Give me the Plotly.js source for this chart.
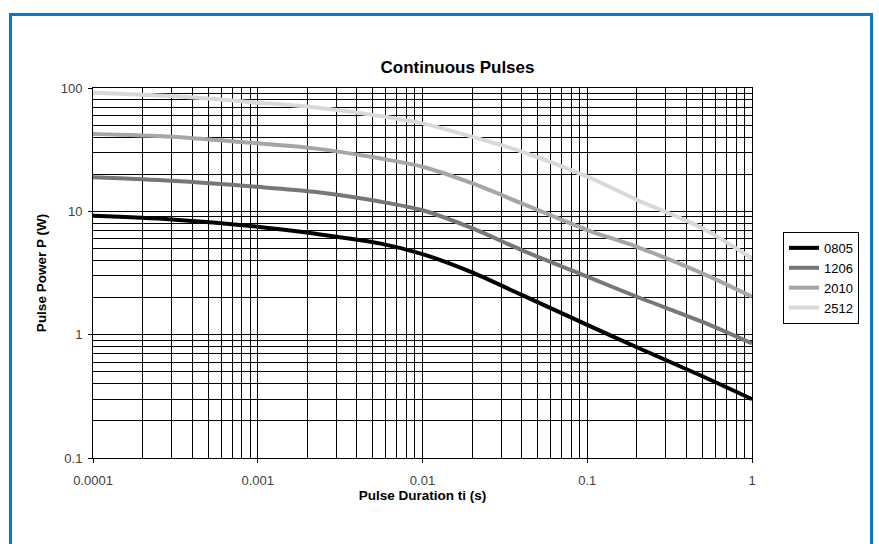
<!DOCTYPE html>
<html>
<head>
<meta charset="utf-8">
<script src="https://cdn.plot.ly/plotly-3.0.1.min.js"></script>
<style>
  html, body { margin: 0; padding: 0; background: #fff; }
  #frame { position: absolute; left: 9px; top: 13px; width: 864px; height: 560px; border: 3px solid #0a78c8; border-bottom: none; box-sizing: border-box; pointer-events: none; z-index: 5; }
  #chart { width: 879px; height: 544px; }
</style>
</head>
<body>
<div id="frame"></div>
<div id="chart"></div>
<script>
// Pulse duration (s)
const duration = [1e-4, 3e-4, 1e-3, 2.2e-3, 5.5e-3, 0.01, 0.02, 0.04, 0.1, 0.2, 0.5, 1];
// Pulse power (W) per size
const p0805 = [9.2, 8.6, 7.5, 6.6, 5.5, 4.5, 3.2, 2.1, 1.2, 0.79, 0.46, 0.30];
const p1206 = [18.9, 17.7, 15.8, 14.4, 12.0, 10.2, 7.3, 4.85, 2.95, 2.03, 1.27, 0.85];
const p2010 = [42.4, 40.3, 35.6, 32.4, 26.9, 23.0, 16.9, 11.6, 7.05, 5.16, 3.14, 2.03];
const p2512 = [91.6, 86.0, 76.0, 69.7, 59.3, 51.7, 40.3, 30.5, 19.1, 12.4, 7.3, 4.16];

const seriesNames = ['0805', '1206', '2010', '2512'];
const seriesValues = [p0805, p1206, p2010, p2512];
const seriesColors = ['#000000', '#777777', '#a6a6a6', '#d9d9d9'];

const xTickVals = [1e-4, 1e-3, 1e-2, 1e-1, 1];
const xTickText = ['0.0001', '0.001', '0.01', '0.1', '1'];
const yTickVals = [0.1, 1, 10, 100];
const yTickText = ['0.1', '1', '10', '100'];

const traces = seriesNames.map((n, i) => ({
  x: duration,
  y: seriesValues[i],
  name: n,
  type: 'scatter',
  mode: 'lines',
  line: { color: seriesColors[i], width: 4, shape: 'spline', smoothing: 0.8 }
}));

const tickFont = { family: 'Liberation Sans, Arial, sans-serif', size: 13, color: '#404040' };
const titleFont = { family: 'Liberation Sans, Arial, sans-serif', size: 13.5, color: '#000' };

const layout = {
  width: 879, height: 544,
  margin: { l: 93, r: 127, t: 88, b: 86 },
  paper_bgcolor: '#fff', plot_bgcolor: '#fff',
  title: { text: '<b>Continuous Pulses</b>', x: 0.5205, xanchor: 'center', y: 0.877, yanchor: 'middle',
           font: { family: 'Liberation Sans, Arial, sans-serif', size: 17, color: '#000' } },
  xaxis: {
    type: 'log', range: [-4, 0],
    tickvals: xTickVals, ticktext: xTickText,
    ticks: 'outside', ticklen: 4, tickcolor: '#000', ticklabelstandoff: 6,
    showline: true, linecolor: '#000', linewidth: 1, mirror: true,
    showgrid: true, gridcolor: '#000', gridwidth: 1,
    minor: { showgrid: true, gridcolor: '#000', gridwidth: 1, dtick: 'D1', ticks: '' },
    zeroline: false, tickfont: tickFont,
    title: { text: '<b>Pulse Duration ti (s)</b>', font: titleFont, standoff: 3 }
  },
  yaxis: {
    type: 'log', range: [-1, 2],
    tickvals: yTickVals, ticktext: yTickText,
    ticks: 'outside', ticklen: 4, tickcolor: '#000', ticklabelstandoff: 3,
    showline: true, linecolor: '#000', linewidth: 1, mirror: true,
    showgrid: true, gridcolor: '#000', gridwidth: 1,
    minor: { showgrid: true, gridcolor: '#000', gridwidth: 1, dtick: 'D1', ticks: '' },
    zeroline: false, tickfont: tickFont,
    title: { text: '<b>Pulse Power P (W)</b>', font: titleFont, standoff: 10 }
  },
  showlegend: true,
  legend: {
    x: 1.047, xanchor: 'left', y: 0.611, yanchor: 'top',
    bordercolor: '#000', borderwidth: 1, bgcolor: '#fff',
    font: { family: 'Liberation Sans, Arial, sans-serif', size: 13, color: '#000' },
    tracegroupgap: 0, itemwidth: 30
  }
};

Plotly.newPlot('chart', traces, layout, { displayModeBar: false, staticPlot: true });
</script>
</body>
</html>
